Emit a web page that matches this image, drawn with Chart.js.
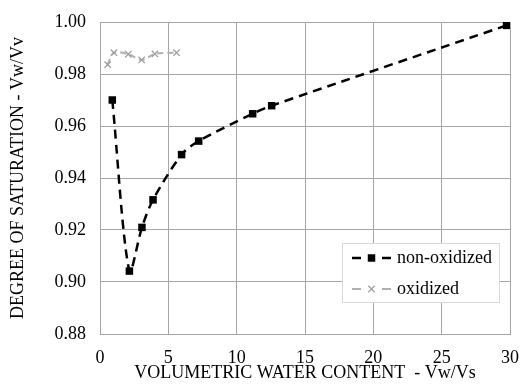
<!DOCTYPE html>
<html>
<head>
<meta charset="utf-8">
<script src="https://cdn.jsdelivr.net/npm/chart.js@4.4.1/dist/chart.umd.min.js"></script>
<style>
  html, body { margin: 0; padding: 0; background: #fff; }
  #wrap { width: 520px; height: 392px; }
</style>
</head>
<body>
<div id="wrap"><canvas id="satChart" width="520" height="392"></canvas></div>
<script>
// values
const nonOxX = [0.9, 2.15, 3.07, 3.88, 5.97, 7.22, 11.17, 12.56, 29.75];
const nonOxY = [0.970, 0.9042, 0.9210, 0.9316, 0.9490, 0.9542, 0.9647, 0.9678, 0.9987];
const oxX = [0.56, 1.02, 2.07, 3.05, 4.02, 5.6];
const oxY = [0.9836, 0.9882, 0.9876, 0.9854, 0.9877, 0.9882];
const seriesNames = ["non-oxidized", "oxidized"];

const toPoints = (xs, ys) => xs.map((x, i) => ({ x: x, y: ys[i] }));
const serif = "Liberation Serif";
const gridGray = "#a6a6a6";
Chart.defaults.font.family = serif;
Chart.defaults.font.size = 18;
Chart.defaults.color = "#000";

// legend drawn inside the plot area, like the original
const insideLegend = {
  id: 'insideLegend',
  afterDraw(chart) {
    const { ctx, chartArea } = chart;
    const w = 157, h = 59;
    const x0 = chartArea.right - 11 - w;
    const y0 = chartArea.bottom - 32 - h;
    ctx.save();
    ctx.fillStyle = "#fff";
    ctx.fillRect(x0, y0, w, h);
    ctx.strokeStyle = "#d9d9d9";
    ctx.lineWidth = 1;
    ctx.strokeRect(x0 + 0.5, y0 + 0.5, w, h);
    chart.data.datasets.forEach((ds, i) => {
      const cy = y0 + 15 + i * 31;
      ctx.strokeStyle = ds.borderColor;
      ctx.lineWidth = ds.borderWidth;
      ctx.beginPath();
      ctx.moveTo(x0 + 10, cy);
      ctx.lineTo(x0 + 19, cy);
      ctx.moveTo(x0 + 40, cy);
      ctx.lineTo(x0 + 49, cy);
      ctx.stroke();
      ctx.fillStyle = ds.pointBackgroundColor || ds.borderColor;
      ctx.strokeStyle = ds.pointBorderColor;
      ctx.lineWidth = ds.pointBorderWidth;
      Chart.helpers.drawPoint(ctx, {
        pointStyle: ds.pointStyle,
        radius: ds.pointRadius,
        borderWidth: ds.pointBorderWidth,
        rotation: 0
      }, x0 + 29.5, cy);
      ctx.fillStyle = "#000";
      ctx.font = "18px " + serif;
      ctx.textBaseline = "middle";
      ctx.textAlign = "left";
      ctx.fillText(ds.label, x0 + 55, cy);
    });
    ctx.restore();
  }
};

new Chart(document.getElementById('satChart').getContext('2d'), {
  type: 'scatter',
  data: {
    datasets: [{
      label: seriesNames[0],
      data: toPoints(nonOxX, nonOxY),
      showLine: true,
      borderColor: "#000",
      backgroundColor: "#000",
      borderWidth: 2.5,
      borderDash: [9, 6],
      tension: 0.3,
      pointStyle: 'rect',
      pointRadius: 5.3,
      pointBorderWidth: 0,
      pointBackgroundColor: "#000",
      pointBorderColor: "#000"
    }, {
      label: seriesNames[1],
      data: toPoints(oxX, oxY),
      showLine: true,
      borderColor: "#b0b0b0",
      backgroundColor: "#b0b0b0",
      borderWidth: 2,
      borderDash: [6, 4],
      tension: 0.3,
      pointStyle: 'crossRot',
      pointRadius: 4.5,
      pointBorderWidth: 1.3,
      pointBorderColor: "#a0a0a0"
    }]
  },
  options: {
    responsive: false,
    animation: false,
    events: [],
    layout: { padding: { top: 22, right: 10, left: 0, bottom: 0 } },
    plugins: {
      legend: { display: false },
      tooltip: { enabled: false }
    },
    scales: {
      x: {
        type: 'linear',
        min: 0,
        max: 30,
        ticks: { stepSize: 5, color: "#000", padding: 13, font: { family: serif, size: 18 } },
        grid: { color: gridGray, drawTicks: false },
        border: { color: gridGray },
        title: {
          display: true,
          text: "VOLUMETRIC WATER CONTENT  - Vw/Vs",
          color: "#000",
          font: { family: serif, size: 18 },
          padding: { top: 0, bottom: 8 }
        },
        afterFit(scale) {
          scale.height = 58;
          scale.paddingLeft = 0;
          scale.paddingRight = 0;
        }
      },
      y: {
        min: 0.88,
        max: 1.0,
        ticks: {
          stepSize: 0.02,
          color: "#000",
          padding: 14,
          font: { family: serif, size: 18 },
          callback: v => v.toFixed(2)
        },
        grid: { color: gridGray, drawTicks: false },
        border: { color: gridGray },
        title: {
          display: true,
          text: "DEGREE OF SATURATION - Vw/Vv",
          color: "#000",
          font: { family: serif, size: 18 },
          padding: { top: 7, bottom: 0 }
        },
        afterFit(scale) {
          scale.width = 100;
          scale.paddingTop = 0;
          scale.paddingBottom = 0;
        }
      }
    }
  },
  plugins: [insideLegend]
});
</script>
</body>
</html>
